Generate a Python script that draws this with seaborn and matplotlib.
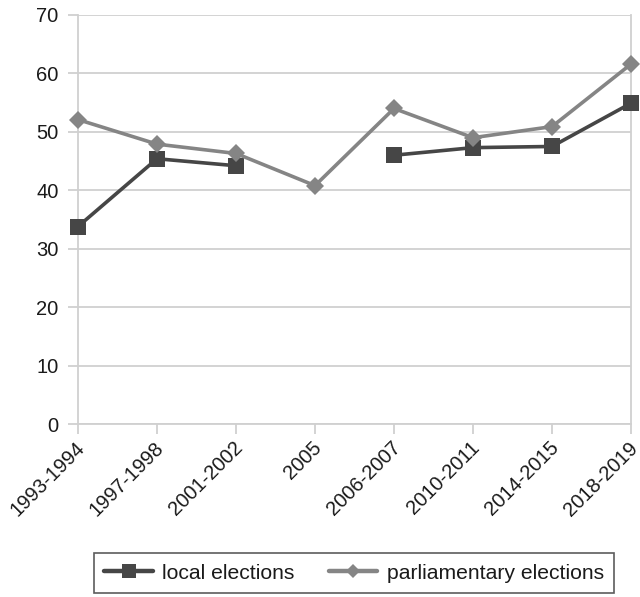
import numpy as np
import pandas as pd
import matplotlib
matplotlib.use("Agg")
import matplotlib.pyplot as plt
import matplotlib.transforms as mtransforms
from matplotlib.lines import Line2D
import seaborn as sns

# Election periods and turnout (%)
periods = ["1993-1994", "1997-1998", "2001-2002", "2005", "2006-2007",
           "2010-2011", "2014-2015", "2018-2019"]
local_elections = [33.8, 45.4, 44.2, np.nan, 46.0, 47.3, 47.5, 54.9]
parliamentary_elections = [52.1, 47.9, 46.3, 40.8, 54.0, 49.0, 50.9, 61.6]
y_ticks = [0, 10, 20, 30, 40, 50, 60, 70]

series_names = ["local elections", "parliamentary elections"]
series_colors = {"local elections": "#464646", "parliamentary elections": "#858585"}
series_markers = {"local elections": "s", "parliamentary elections": "D"}
marker_sizes = {"s": 11, "D": 8.8}

sns.set_theme(style="white")
plt.rcParams["font.family"] = ["Liberation Sans", "DejaVu Sans"]

FONT_SIZE = 14.5
LEGEND_FONT_SIZE = 15.2
TEXT_COLOR = "#1a1a1a"

# Long-form table; a missing value breaks the line into separate segments
frames = []
for name, values in zip(series_names, [local_elections, parliamentary_elections]):
    vals = pd.Series(values, dtype=float)
    seg = vals.isna().cumsum()
    frames.append(pd.DataFrame({
        "pos": np.arange(len(periods)),
        "value": vals,
        "series": name,
        "segment": [f"{name}-{s}" for s in seg],
    }))
df = pd.concat(frames, ignore_index=True).dropna(subset=["value"])

fig = plt.figure(figsize=(6.4, 5.97), dpi=100)
ax = fig.add_axes([78 / 640, 1 - 424 / 597, (631 - 78) / 640, (424 - 15) / 597])

sns.lineplot(data=df, x="pos", y="value", hue="series", style="series",
             units="segment", estimator=None, hue_order=series_names,
             style_order=series_names, palette=series_colors,
             markers=series_markers, dashes=False, linewidth=2.6,
             markeredgewidth=0, ax=ax, legend=False, sort=False,
             clip_on=False, zorder=3)

for line in ax.get_lines():
    m = line.get_marker()
    if m in marker_sizes:
        line.set_markersize(marker_sizes[m])

ax.set_xlim(0, len(periods) - 1)
ax.set_ylim(0, 70)
ax.set_yticks(y_ticks)
ax.set_xticks(np.arange(len(periods)))
ax.set_xticklabels(periods, rotation=45, ha="right", va="center",
                   rotation_mode="anchor")
ax.set_xlabel("")
ax.set_ylabel("")

grid_color = "#d0d0d0"
ax.yaxis.grid(True, color=grid_color, linewidth=1.3, zorder=0)
ax.xaxis.grid(False)
ax.set_axisbelow(True)
for side in ["left", "right", "bottom"]:
    ax.spines[side].set_visible(True)
    ax.spines[side].set_color(grid_color)
    ax.spines[side].set_linewidth(1.3)
ax.spines["top"].set_visible(False)
ax.tick_params(axis="both", which="major", direction="out", length=7,
               width=1.3, color=grid_color, labelsize=FONT_SIZE,
               labelcolor=TEXT_COLOR, bottom=True, left=True)
ax.tick_params(axis="y", pad=7)
ax.tick_params(axis="x", pad=8)

# Nudge rotated period labels slightly right of their ticks
offset = mtransforms.ScaledTranslation(3.5 / 100, 0, fig.dpi_scale_trans)
for lbl in ax.get_xticklabels():
    lbl.set_transform(lbl.get_transform() + offset)

# Legend below the plot
handles = [
    Line2D([], [], color=series_colors[n], marker=series_markers[n],
           markersize=(9.5 if series_markers[n] == "s" else 7.0),
           markeredgewidth=0, linewidth=3.2)
    for n in series_names
]
leg = fig.legend(handles, series_names, loc="upper center",
                 bbox_to_anchor=(354 / 640, 1 - 553 / 597), ncol=2,
                 frameon=True, fancybox=False, fontsize=LEGEND_FONT_SIZE,
                 handlelength=2.3, handletextpad=0.45, columnspacing=1.6,
                 borderpad=0.5, borderaxespad=0)
leg.get_frame().set_edgecolor("#333333")
leg.get_frame().set_linewidth(1.2)
for t in leg.get_texts():
    t.set_color(TEXT_COLOR)

fig.savefig("out.png", dpi=100)
